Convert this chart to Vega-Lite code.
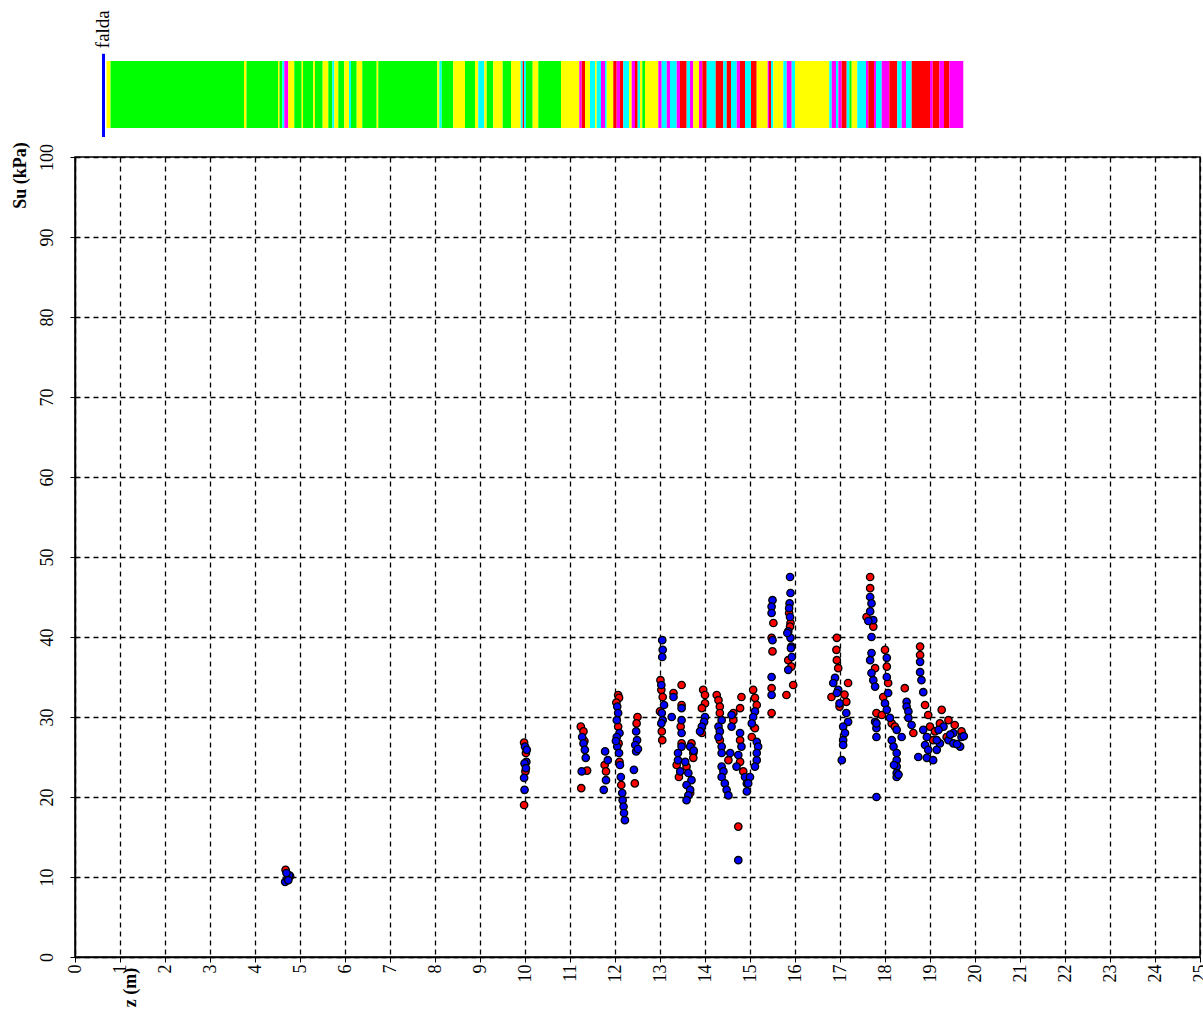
{
  "$schema": "https://vega.github.io/schema/vega-lite/v6.json",
  "autosize": {"type": "none"},
  "padding": {"left": 75, "top": 157, "right": 3, "bottom": 64},
  "width": 1125,
  "height": 800,
  "background": "white",
  "config": {
    "view": {"stroke": "black", "strokeWidth": 1.5},
    "axis": {
      "domainColor": "black", "domainWidth": 1.5,
      "grid": true, "gridColor": "black", "gridOpacity": 1, "gridWidth": 1.3, "gridDash": [5, 4],
      "tickColor": "black", "tickSize": 5, "tickWidth": 1,
      "labelFont": "Liberation Serif", "labelFontSize": 18, "labelColor": "black",
      "titleFont": "Liberation Serif", "titleFontSize": 18, "titleFontWeight": "bold", "titleColor": "black"
    }
  },
  "datasets": {
    "strip": [
      {"z0": 0.700, "z1": 0.789, "c": "Y"},
      {"z0": 0.789, "z1": 3.756, "c": "G"},
      {"z0": 3.756, "z1": 3.811, "c": "Y"},
      {"z0": 3.811, "z1": 4.511, "c": "G"},
      {"z0": 4.511, "z1": 4.544, "c": "Y"},
      {"z0": 4.544, "z1": 4.607, "c": "G"},
      {"z0": 4.607, "z1": 4.651, "c": "C"},
      {"z0": 4.651, "z1": 4.740, "c": "M"},
      {"z0": 4.740, "z1": 4.873, "c": "Y"},
      {"z0": 4.873, "z1": 5.038, "c": "G"},
      {"z0": 5.038, "z1": 5.067, "c": "Y"},
      {"z0": 5.067, "z1": 5.296, "c": "G"},
      {"z0": 5.296, "z1": 5.333, "c": "Y"},
      {"z0": 5.333, "z1": 5.504, "c": "G"},
      {"z0": 5.504, "z1": 5.629, "c": "Y"},
      {"z0": 5.629, "z1": 5.718, "c": "G"},
      {"z0": 5.718, "z1": 5.762, "c": "C"},
      {"z0": 5.762, "z1": 5.851, "c": "Y"},
      {"z0": 5.851, "z1": 5.984, "c": "G"},
      {"z0": 5.984, "z1": 6.089, "c": "Y"},
      {"z0": 6.089, "z1": 6.133, "c": "C"},
      {"z0": 6.133, "z1": 6.260, "c": "G"},
      {"z0": 6.260, "z1": 6.384, "c": "Y"},
      {"z0": 6.384, "z1": 6.704, "c": "G"},
      {"z0": 6.704, "z1": 6.740, "c": "Y"},
      {"z0": 6.740, "z1": 8.051, "c": "G"},
      {"z0": 8.051, "z1": 8.096, "c": "Y"},
      {"z0": 8.096, "z1": 8.149, "c": "C"},
      {"z0": 8.149, "z1": 8.407, "c": "G"},
      {"z0": 8.407, "z1": 8.667, "c": "Y"},
      {"z0": 8.667, "z1": 8.889, "c": "G"},
      {"z0": 8.889, "z1": 8.962, "c": "Y"},
      {"z0": 8.962, "z1": 9.096, "c": "C"},
      {"z0": 9.096, "z1": 9.149, "c": "Y"},
      {"z0": 9.149, "z1": 9.296, "c": "G"},
      {"z0": 9.296, "z1": 9.504, "c": "Y"},
      {"z0": 9.504, "z1": 9.689, "c": "G"},
      {"z0": 9.689, "z1": 9.904, "c": "Y"},
      {"z0": 9.904, "z1": 9.949, "c": "C"},
      {"z0": 9.949, "z1": 9.978, "c": "R"},
      {"z0": 9.978, "z1": 10.022, "c": "C"},
      {"z0": 10.022, "z1": 10.171, "c": "G"},
      {"z0": 10.171, "z1": 10.296, "c": "Y"},
      {"z0": 10.296, "z1": 10.800, "c": "G"},
      {"z0": 10.800, "z1": 11.207, "c": "Y"},
      {"z0": 11.207, "z1": 11.260, "c": "M"},
      {"z0": 11.260, "z1": 11.333, "c": "R"},
      {"z0": 11.333, "z1": 11.444, "c": "Y"},
      {"z0": 11.444, "z1": 11.556, "c": "C"},
      {"z0": 11.556, "z1": 11.593, "c": "Y"},
      {"z0": 11.593, "z1": 11.689, "c": "C"},
      {"z0": 11.689, "z1": 11.778, "c": "M"},
      {"z0": 11.778, "z1": 11.816, "c": "C"},
      {"z0": 11.816, "z1": 11.962, "c": "Y"},
      {"z0": 11.962, "z1": 12.038, "c": "R"},
      {"z0": 12.038, "z1": 12.111, "c": "M"},
      {"z0": 12.111, "z1": 12.184, "c": "R"},
      {"z0": 12.184, "z1": 12.311, "c": "C"},
      {"z0": 12.311, "z1": 12.371, "c": "Y"},
      {"z0": 12.371, "z1": 12.444, "c": "M"},
      {"z0": 12.444, "z1": 12.504, "c": "R"},
      {"z0": 12.504, "z1": 12.556, "c": "C"},
      {"z0": 12.556, "z1": 12.607, "c": "Y"},
      {"z0": 12.607, "z1": 12.667, "c": "G"},
      {"z0": 12.667, "z1": 12.962, "c": "Y"},
      {"z0": 12.962, "z1": 13.038, "c": "M"},
      {"z0": 13.038, "z1": 13.149, "c": "C"},
      {"z0": 13.149, "z1": 13.222, "c": "M"},
      {"z0": 13.222, "z1": 13.371, "c": "C"},
      {"z0": 13.371, "z1": 13.444, "c": "M"},
      {"z0": 13.444, "z1": 13.593, "c": "R"},
      {"z0": 13.593, "z1": 13.667, "c": "C"},
      {"z0": 13.667, "z1": 13.740, "c": "M"},
      {"z0": 13.740, "z1": 13.867, "c": "Y"},
      {"z0": 13.867, "z1": 13.940, "c": "M"},
      {"z0": 13.940, "z1": 14.038, "c": "R"},
      {"z0": 14.038, "z1": 14.238, "c": "C"},
      {"z0": 14.238, "z1": 14.407, "c": "R"},
      {"z0": 14.407, "z1": 14.482, "c": "C"},
      {"z0": 14.482, "z1": 14.578, "c": "R"},
      {"z0": 14.578, "z1": 14.704, "c": "C"},
      {"z0": 14.704, "z1": 14.778, "c": "M"},
      {"z0": 14.778, "z1": 14.889, "c": "R"},
      {"z0": 14.889, "z1": 15.022, "c": "C"},
      {"z0": 15.022, "z1": 15.149, "c": "R"},
      {"z0": 15.149, "z1": 15.393, "c": "Y"},
      {"z0": 15.393, "z1": 15.422, "c": "M"},
      {"z0": 15.422, "z1": 15.467, "c": "R"},
      {"z0": 15.467, "z1": 15.518, "c": "C"},
      {"z0": 15.518, "z1": 15.740, "c": "Y"},
      {"z0": 15.740, "z1": 15.816, "c": "C"},
      {"z0": 15.816, "z1": 15.927, "c": "M"},
      {"z0": 15.927, "z1": 16.000, "c": "C"},
      {"z0": 16.000, "z1": 16.762, "c": "Y"},
      {"z0": 16.762, "z1": 16.816, "c": "C"},
      {"z0": 16.816, "z1": 16.911, "c": "M"},
      {"z0": 16.911, "z1": 16.962, "c": "C"},
      {"z0": 16.962, "z1": 17.038, "c": "M"},
      {"z0": 17.038, "z1": 17.149, "c": "R"},
      {"z0": 17.149, "z1": 17.207, "c": "C"},
      {"z0": 17.207, "z1": 17.260, "c": "G"},
      {"z0": 17.260, "z1": 17.384, "c": "Y"},
      {"z0": 17.384, "z1": 17.578, "c": "C"},
      {"z0": 17.578, "z1": 17.629, "c": "M"},
      {"z0": 17.629, "z1": 17.756, "c": "R"},
      {"z0": 17.756, "z1": 17.800, "c": "M"},
      {"z0": 17.800, "z1": 17.927, "c": "C"},
      {"z0": 17.927, "z1": 18.096, "c": "M"},
      {"z0": 18.096, "z1": 18.273, "c": "R"},
      {"z0": 18.273, "z1": 18.371, "c": "C"},
      {"z0": 18.371, "z1": 18.467, "c": "M"},
      {"z0": 18.467, "z1": 18.593, "c": "C"},
      {"z0": 18.593, "z1": 19.000, "c": "R"},
      {"z0": 19.000, "z1": 19.060, "c": "M"},
      {"z0": 19.060, "z1": 19.207, "c": "R"},
      {"z0": 19.207, "z1": 19.311, "c": "M"},
      {"z0": 19.311, "z1": 19.429, "c": "R"},
      {"z0": 19.429, "z1": 19.740, "c": "M"}
    ],
    "falda": [{"z": 0.633, "label": "falda"}],
    "points": [
      {"z": 4.67, "su": 9.4, "s": "b"}, {"z": 4.72, "su": 9.8, "s": "b"}, {"z": 4.76, "su": 10.2, "s": "b"}, {"z": 4.68, "su": 10.9, "s": "r"}, {"z": 4.70, "su": 10.5, "s": "b"}, {"z": 4.74, "su": 9.6, "s": "b"}, {"z": 4.78, "su": 10.1, "s": "r"},
      {"z": 9.98, "su": 26.8, "s": "r"}, {"z": 10.00, "su": 26.3, "s": "b"}, {"z": 10.02, "su": 25.5, "s": "r"}, {"z": 10.03, "su": 24.4, "s": "b"}, {"z": 9.99, "su": 24.2, "s": "b"}, {"z": 10.02, "su": 23.6, "s": "b"}, {"z": 9.98, "su": 22.4, "s": "b"}, {"z": 9.99, "su": 20.9, "s": "b"}, {"z": 9.98, "su": 19.0, "s": "r"}, {"z": 10.04, "su": 25.9, "s": "b"}, {"z": 10.01, "su": 23.2, "s": "r"},
      {"z": 11.24, "su": 28.8, "s": "r"}, {"z": 11.30, "su": 28.2, "s": "r"}, {"z": 11.27, "su": 27.5, "s": "b"}, {"z": 11.30, "su": 26.7, "s": "b"}, {"z": 11.33, "su": 25.9, "s": "b"}, {"z": 11.35, "su": 24.9, "s": "b"}, {"z": 11.26, "su": 23.2, "s": "b"}, {"z": 11.38, "su": 23.3, "s": "r"}, {"z": 11.25, "su": 21.1, "s": "r"}, {"z": 11.32, "su": 27.0, "s": "r"},
      {"z": 11.78, "su": 25.7, "s": "b"}, {"z": 11.77, "su": 24.0, "s": "r"}, {"z": 11.80, "su": 23.2, "s": "r"}, {"z": 11.80, "su": 22.1, "s": "b"}, {"z": 11.75, "su": 20.9, "s": "b"}, {"z": 11.84, "su": 24.6, "s": "b"},
      {"z": 12.07, "su": 32.75, "s": "r"}, {"z": 12.09, "su": 32.4, "s": "r"}, {"z": 12.05, "su": 31.3, "s": "b"}, {"z": 12.07, "su": 30.5, "s": "b"}, {"z": 12.04, "su": 29.6, "s": "b"}, {"z": 12.07, "su": 28.8, "s": "r"}, {"z": 12.10, "su": 28.0, "s": "b"}, {"z": 12.04, "su": 27.5, "s": "b"}, {"z": 12.08, "su": 26.7, "s": "r"}, {"z": 12.05, "su": 26.3, "s": "b"}, {"z": 12.09, "su": 25.5, "s": "b"}, {"z": 12.10, "su": 24.4, "s": "r"}, {"z": 12.11, "su": 24.0, "s": "b"}, {"z": 12.13, "su": 22.5, "s": "b"}, {"z": 12.14, "su": 21.5, "s": "r"}, {"z": 12.16, "su": 20.5, "s": "b"}, {"z": 12.17, "su": 19.6, "s": "b"}, {"z": 12.19, "su": 18.8, "s": "b"}, {"z": 12.20, "su": 18.0, "s": "b"}, {"z": 12.22, "su": 17.1, "s": "b"}, {"z": 12.03, "su": 31.8, "s": "r"}, {"z": 12.02, "su": 27.0, "s": "b"},
      {"z": 12.50, "su": 30.0, "s": "r"}, {"z": 12.48, "su": 29.2, "s": "r"}, {"z": 12.47, "su": 28.2, "s": "b"}, {"z": 12.49, "su": 27.1, "s": "b"}, {"z": 12.45, "su": 26.5, "s": "b"}, {"z": 12.47, "su": 25.7, "s": "b"}, {"z": 12.42, "su": 23.4, "s": "b"}, {"z": 12.44, "su": 21.7, "s": "r"}, {"z": 12.51, "su": 26.0, "s": "b"},
      {"z": 13.05, "su": 39.6, "s": "b"}, {"z": 13.06, "su": 38.4, "s": "b"}, {"z": 13.05, "su": 37.5, "s": "b"}, {"z": 13.01, "su": 34.6, "s": "r"}, {"z": 13.03, "su": 34.0, "s": "b"}, {"z": 13.03, "su": 33.4, "s": "r"}, {"z": 13.06, "su": 32.5, "s": "r"}, {"z": 13.00, "su": 30.7, "s": "r"}, {"z": 13.04, "su": 30.5, "s": "b"}, {"z": 13.06, "su": 29.6, "s": "b"}, {"z": 13.03, "su": 29.2, "s": "b"}, {"z": 13.04, "su": 28.2, "s": "r"}, {"z": 13.05, "su": 27.1, "s": "r"}, {"z": 13.09, "su": 31.5, "s": "b"},
      {"z": 13.48, "su": 34.0, "s": "r"}, {"z": 13.30, "su": 33.0, "s": "r"}, {"z": 13.30, "su": 32.5, "s": "b"}, {"z": 13.48, "su": 31.5, "s": "r"}, {"z": 13.48, "su": 31.1, "s": "b"}, {"z": 13.26, "su": 30.0, "s": "b"}, {"z": 13.48, "su": 29.6, "s": "b"}, {"z": 13.46, "su": 28.8, "s": "r"}, {"z": 13.48, "su": 28.0, "s": "b"}, {"z": 13.48, "su": 26.7, "s": "r"}, {"z": 13.48, "su": 26.3, "s": "b"}, {"z": 13.40, "su": 25.5, "s": "b"}, {"z": 13.40, "su": 24.6, "s": "b"}, {"z": 13.37, "su": 24.0, "s": "r"}, {"z": 13.45, "su": 23.2, "s": "b"}, {"z": 13.42, "su": 22.5, "s": "r"},
      {"z": 13.70, "su": 26.7, "s": "r"}, {"z": 13.67, "su": 26.3, "s": "b"}, {"z": 13.74, "su": 25.5, "s": "r"}, {"z": 13.74, "su": 24.9, "s": "r"}, {"z": 13.56, "su": 24.4, "s": "b"}, {"z": 13.59, "su": 23.8, "s": "r"}, {"z": 13.63, "su": 23.0, "s": "b"}, {"z": 13.70, "su": 22.1, "s": "b"}, {"z": 13.59, "su": 21.5, "s": "b"}, {"z": 13.67, "su": 20.9, "s": "b"}, {"z": 13.63, "su": 20.2, "s": "b"}, {"z": 13.59, "su": 19.6, "s": "b"}, {"z": 13.67, "su": 20.5, "s": "r"}, {"z": 13.75, "su": 25.8, "s": "b"},
      {"z": 13.96, "su": 33.4, "s": "r"}, {"z": 14.00, "su": 32.75, "s": "r"}, {"z": 14.00, "su": 31.7, "s": "r"}, {"z": 13.93, "su": 31.1, "s": "r"}, {"z": 14.00, "su": 30.0, "s": "b"}, {"z": 13.98, "su": 29.4, "s": "b"}, {"z": 13.93, "su": 28.8, "s": "b"}, {"z": 13.89, "su": 28.2, "s": "b"}, {"z": 13.93, "su": 28.0, "s": "r"},
      {"z": 14.26, "su": 32.75, "s": "r"}, {"z": 14.30, "su": 32.1, "s": "r"}, {"z": 14.33, "su": 31.3, "s": "r"}, {"z": 14.33, "su": 30.5, "s": "r"}, {"z": 14.37, "su": 29.6, "s": "b"}, {"z": 14.30, "su": 28.8, "s": "b"}, {"z": 14.33, "su": 28.2, "s": "b"}, {"z": 14.30, "su": 27.5, "s": "b"}, {"z": 14.33, "su": 27.1, "s": "r"}, {"z": 14.37, "su": 26.3, "s": "b"}, {"z": 14.37, "su": 25.5, "s": "b"}, {"z": 14.52, "su": 24.6, "s": "r"}, {"z": 14.37, "su": 23.8, "s": "b"}, {"z": 14.41, "su": 23.2, "s": "b"}, {"z": 14.37, "su": 22.5, "s": "b"}, {"z": 14.44, "su": 21.7, "s": "b"}, {"z": 14.48, "su": 20.9, "s": "b"}, {"z": 14.52, "su": 20.2, "s": "b"}, {"z": 14.56, "su": 25.5, "s": "b"},
      {"z": 14.81, "su": 32.5, "s": "r"}, {"z": 14.78, "su": 31.1, "s": "r"}, {"z": 14.63, "su": 30.5, "s": "r"}, {"z": 14.59, "su": 30.25, "s": "b"}, {"z": 14.63, "su": 29.6, "s": "r"}, {"z": 14.59, "su": 28.8, "s": "b"}, {"z": 14.78, "su": 28.0, "s": "b"}, {"z": 14.78, "su": 27.1, "s": "r"}, {"z": 14.81, "su": 26.3, "s": "b"}, {"z": 14.74, "su": 25.25, "s": "b"}, {"z": 14.78, "su": 24.4, "s": "r"}, {"z": 14.70, "su": 23.8, "s": "b"}, {"z": 14.85, "su": 23.2, "s": "r"}, {"z": 14.89, "su": 22.5, "s": "b"}, {"z": 14.93, "su": 21.7, "s": "b"}, {"z": 14.93, "su": 20.7, "s": "b"}, {"z": 14.74, "su": 16.3, "s": "r"}, {"z": 14.74, "su": 12.1, "s": "b"},
      {"z": 15.07, "su": 33.4, "s": "r"}, {"z": 15.11, "su": 32.4, "s": "r"}, {"z": 15.15, "su": 31.5, "s": "r"}, {"z": 15.11, "su": 30.7, "s": "b"}, {"z": 15.07, "su": 30.0, "s": "b"}, {"z": 15.04, "su": 29.2, "s": "b"}, {"z": 15.11, "su": 28.6, "s": "r"}, {"z": 15.04, "su": 27.5, "s": "r"}, {"z": 15.15, "su": 26.9, "s": "b"}, {"z": 15.18, "su": 26.3, "s": "b"}, {"z": 15.15, "su": 25.5, "s": "b"}, {"z": 15.15, "su": 24.6, "s": "b"}, {"z": 15.11, "su": 23.8, "s": "b"}, {"z": 15.00, "su": 22.5, "s": "b"}, {"z": 14.96, "su": 21.7, "s": "b"},
      {"z": 15.50, "su": 44.6, "s": "b"}, {"z": 15.48, "su": 43.8, "s": "b"}, {"z": 15.48, "su": 43.0, "s": "b"}, {"z": 15.52, "su": 41.75, "s": "r"}, {"z": 15.48, "su": 39.9, "s": "r"}, {"z": 15.50, "su": 39.6, "s": "b"}, {"z": 15.50, "su": 38.2, "s": "r"}, {"z": 15.48, "su": 35.0, "s": "b"}, {"z": 15.48, "su": 33.6, "s": "r"}, {"z": 15.48, "su": 32.75, "s": "b"}, {"z": 15.48, "su": 30.5, "s": "r"},
      {"z": 15.89, "su": 47.5, "s": "b"}, {"z": 15.90, "su": 45.5, "s": "b"}, {"z": 15.88, "su": 44.2, "s": "b"}, {"z": 15.87, "su": 43.6, "s": "b"}, {"z": 15.87, "su": 43.0, "s": "r"}, {"z": 15.90, "su": 41.75, "s": "r"}, {"z": 15.85, "su": 40.7, "s": "b"}, {"z": 15.90, "su": 39.9, "s": "b"}, {"z": 15.92, "su": 38.8, "s": "b"}, {"z": 15.93, "su": 37.5, "s": "b"}, {"z": 15.85, "su": 37.1, "s": "r"}, {"z": 15.92, "su": 36.3, "s": "r"}, {"z": 15.85, "su": 35.9, "s": "b"}, {"z": 15.96, "su": 34.0, "s": "r"}, {"z": 15.81, "su": 32.75, "s": "r"}, {"z": 15.89, "su": 42.5, "s": "b"}, {"z": 15.89, "su": 41.3, "s": "r"}, {"z": 15.83, "su": 40.5, "s": "b"}, {"z": 15.91, "su": 38.6, "s": "b"},
      {"z": 16.93, "su": 39.9, "s": "r"}, {"z": 16.92, "su": 38.4, "s": "r"}, {"z": 16.93, "su": 37.1, "s": "r"}, {"z": 16.96, "su": 36.1, "s": "r"}, {"z": 16.89, "su": 34.9, "s": "b"}, {"z": 16.85, "su": 34.25, "s": "b"}, {"z": 16.96, "su": 33.4, "s": "b"}, {"z": 16.81, "su": 32.5, "s": "r"}, {"z": 17.14, "su": 31.9, "s": "r"}, {"z": 16.99, "su": 31.7, "s": "b"}, {"z": 16.99, "su": 31.3, "s": "r"}, {"z": 17.14, "su": 30.5, "s": "b"}, {"z": 17.18, "su": 29.4, "s": "b"}, {"z": 17.07, "su": 28.8, "s": "b"}, {"z": 17.11, "su": 28.0, "s": "b"}, {"z": 17.07, "su": 27.1, "s": "b"}, {"z": 17.07, "su": 26.5, "s": "b"}, {"z": 17.04, "su": 24.6, "s": "b"}, {"z": 17.18, "su": 34.25, "s": "r"}, {"z": 16.93, "su": 33.0, "s": "b"}, {"z": 17.10, "su": 32.8, "s": "r"},
      {"z": 17.67, "su": 47.5, "s": "r"}, {"z": 17.67, "su": 46.1, "s": "r"}, {"z": 17.67, "su": 45.0, "s": "b"}, {"z": 17.70, "su": 44.2, "s": "b"}, {"z": 17.67, "su": 43.2, "s": "b"}, {"z": 17.59, "su": 42.5, "s": "r"}, {"z": 17.74, "su": 42.1, "s": "b"}, {"z": 17.74, "su": 41.3, "s": "r"}, {"z": 17.70, "su": 40.0, "s": "b"}, {"z": 17.70, "su": 38.0, "s": "b"}, {"z": 17.67, "su": 37.1, "s": "b"}, {"z": 17.78, "su": 36.1, "s": "r"}, {"z": 17.70, "su": 35.5, "s": "b"}, {"z": 17.74, "su": 34.6, "s": "b"}, {"z": 17.78, "su": 33.8, "s": "b"}, {"z": 17.81, "su": 30.5, "s": "r"}, {"z": 17.78, "su": 29.4, "s": "b"}, {"z": 17.81, "su": 28.6, "s": "b"}, {"z": 17.81, "su": 27.5, "s": "b"}, {"z": 17.81, "su": 20.0, "s": "b"}, {"z": 17.63, "su": 42.0, "s": "b"},
      {"z": 18.00, "su": 38.4, "s": "r"}, {"z": 18.04, "su": 37.4, "s": "b"}, {"z": 18.04, "su": 36.3, "s": "r"}, {"z": 18.04, "su": 35.0, "s": "b"}, {"z": 18.07, "su": 34.25, "s": "r"}, {"z": 18.07, "su": 33.0, "s": "b"}, {"z": 17.96, "su": 32.5, "s": "r"}, {"z": 18.00, "su": 31.7, "s": "b"}, {"z": 18.04, "su": 30.9, "s": "b"}, {"z": 18.11, "su": 29.9, "s": "b"}, {"z": 18.15, "su": 29.2, "s": "r"}, {"z": 18.22, "su": 28.8, "s": "r"}, {"z": 18.26, "su": 28.4, "s": "b"}, {"z": 18.37, "su": 27.5, "s": "b"}, {"z": 18.15, "su": 27.1, "s": "b"}, {"z": 18.19, "su": 26.3, "s": "b"}, {"z": 18.26, "su": 25.5, "s": "b"}, {"z": 18.26, "su": 24.6, "s": "b"}, {"z": 18.26, "su": 23.8, "s": "b"}, {"z": 18.26, "su": 23.0, "s": "b"}, {"z": 18.26, "su": 22.5, "s": "b"}, {"z": 17.93, "su": 30.25, "s": "r"}, {"z": 17.81, "su": 29.2, "s": "b"}, {"z": 18.20, "su": 24.0, "s": "b"}, {"z": 18.30, "su": 22.8, "s": "b"},
      {"z": 18.78, "su": 38.8, "s": "r"}, {"z": 18.78, "su": 37.75, "s": "r"}, {"z": 18.78, "su": 36.9, "s": "b"}, {"z": 18.78, "su": 35.6, "s": "b"}, {"z": 18.81, "su": 34.6, "s": "b"}, {"z": 18.44, "su": 33.6, "s": "r"}, {"z": 18.85, "su": 33.1, "s": "b"}, {"z": 18.48, "su": 31.9, "s": "b"}, {"z": 18.89, "su": 31.5, "s": "r"}, {"z": 18.48, "su": 31.3, "s": "b"}, {"z": 18.52, "su": 30.7, "s": "b"}, {"z": 18.96, "su": 30.25, "s": "r"}, {"z": 18.52, "su": 29.9, "s": "b"}, {"z": 18.59, "su": 29.0, "s": "b"}, {"z": 18.63, "su": 28.0, "s": "r"},
      {"z": 18.85, "su": 28.4, "s": "b"}, {"z": 18.93, "su": 27.5, "s": "b"}, {"z": 19.07, "su": 27.1, "s": "r"}, {"z": 18.89, "su": 26.5, "s": "b"}, {"z": 18.96, "su": 25.9, "s": "b"}, {"z": 18.74, "su": 25.0, "s": "b"}, {"z": 18.93, "su": 24.9, "s": "b"}, {"z": 19.07, "su": 24.6, "s": "b"}, {"z": 19.15, "su": 25.9, "s": "b"}, {"z": 19.00, "su": 28.8, "s": "r"}, {"z": 19.11, "su": 28.2, "s": "r"},
      {"z": 19.26, "su": 30.9, "s": "r"}, {"z": 19.41, "su": 29.6, "s": "r"}, {"z": 19.22, "su": 29.2, "s": "r"}, {"z": 19.30, "su": 28.8, "s": "b"}, {"z": 19.70, "su": 28.2, "s": "r"}, {"z": 19.52, "su": 28.0, "s": "b"}, {"z": 19.70, "su": 27.5, "s": "b"}, {"z": 19.41, "su": 27.1, "s": "b"}, {"z": 19.52, "su": 26.7, "s": "b"}, {"z": 19.67, "su": 26.3, "s": "b"}, {"z": 19.37, "su": 27.5, "s": "r"}, {"z": 19.19, "su": 28.4, "s": "b"}, {"z": 19.22, "su": 26.7, "s": "b"}, {"z": 19.15, "su": 27.1, "s": "b"}, {"z": 19.60, "su": 26.6, "s": "b"}, {"z": 19.45, "su": 27.8, "s": "b"}, {"z": 19.55, "su": 29.0, "s": "r"}, {"z": 19.75, "su": 27.6, "s": "b"}
    ]
  },
  "layer": [
    {
      "data": {"name": "points"},
      "mark": {"type": "point", "shape": "circle", "filled": true, "size": 55, "stroke": "black", "strokeWidth": 1.3, "opacity": 1},
      "encoding": {
        "x": {"field": "z", "type": "quantitative", "scale": {"domain": [0, 25], "nice": false, "zero": false},
              "axis": {"title": "z (m)", "values": [0,1,2,3,4,5,6,7,8,9,10,11,12,13,14,15,16,17,18,19,20,21,22,23,24,25],
                       "labelAngle": 270, "labelAlign": "right", "labelBaseline": "middle", "labelPadding": 2,
                       "titleAngle": 270, "titleX": 55, "titleY": 30, "titleAlign": "center", "titleBaseline": "middle"}},
        "y": {"field": "su", "type": "quantitative", "scale": {"domain": [0, 100], "nice": false},
              "axis": {"title": "Su (kPa)", "values": [0,10,20,30,40,50,60,70,80,90,100],
                       "labelAngle": 270, "labelAlign": "center", "labelBaseline": "bottom", "labelPadding": 14,
                       "titleAngle": 270, "titleX": -55, "titleY": 18, "titleAlign": "center", "titleBaseline": "middle"}},
        "fill": {"field": "s", "type": "nominal", "scale": {"domain": ["r", "b"], "range": ["#ff0000", "#0000ff"]}, "legend": null},
        "order": {"field": "s", "sort": "descending"}
      }
    },
    {
      "data": {"name": "strip"},
      "mark": {"type": "rect"},
      "encoding": {
        "x": {"field": "z0", "type": "quantitative"},
        "x2": {"field": "z1"},
        "y": {"datum": 103.625, "type": "quantitative"},
        "y2": {"datum": 112},
        "color": {"field": "c", "type": "nominal", "scale": {"domain": ["G", "Y", "C", "M", "R"], "range": ["#00ff00", "#ffff00", "#00ffff", "#ff00ff", "#ff0000"]}, "legend": null}
      }
    },
    {
      "data": {"name": "falda"},
      "mark": {"type": "rule", "color": "#0000ff", "strokeWidth": 3},
      "encoding": {
        "x": {"field": "z", "type": "quantitative"},
        "y": {"datum": 102.5, "type": "quantitative"},
        "y2": {"datum": 112.9}
      }
    },
    {
      "data": {"name": "falda"},
      "mark": {"type": "text", "angle": 270, "align": "left", "baseline": "middle", "font": "Liberation Serif", "fontSize": 19, "color": "black"},
      "encoding": {
        "x": {"field": "z", "type": "quantitative"},
        "y": {"datum": 113.6, "type": "quantitative"},
        "text": {"field": "label"}
      }
    }
  ]
}
